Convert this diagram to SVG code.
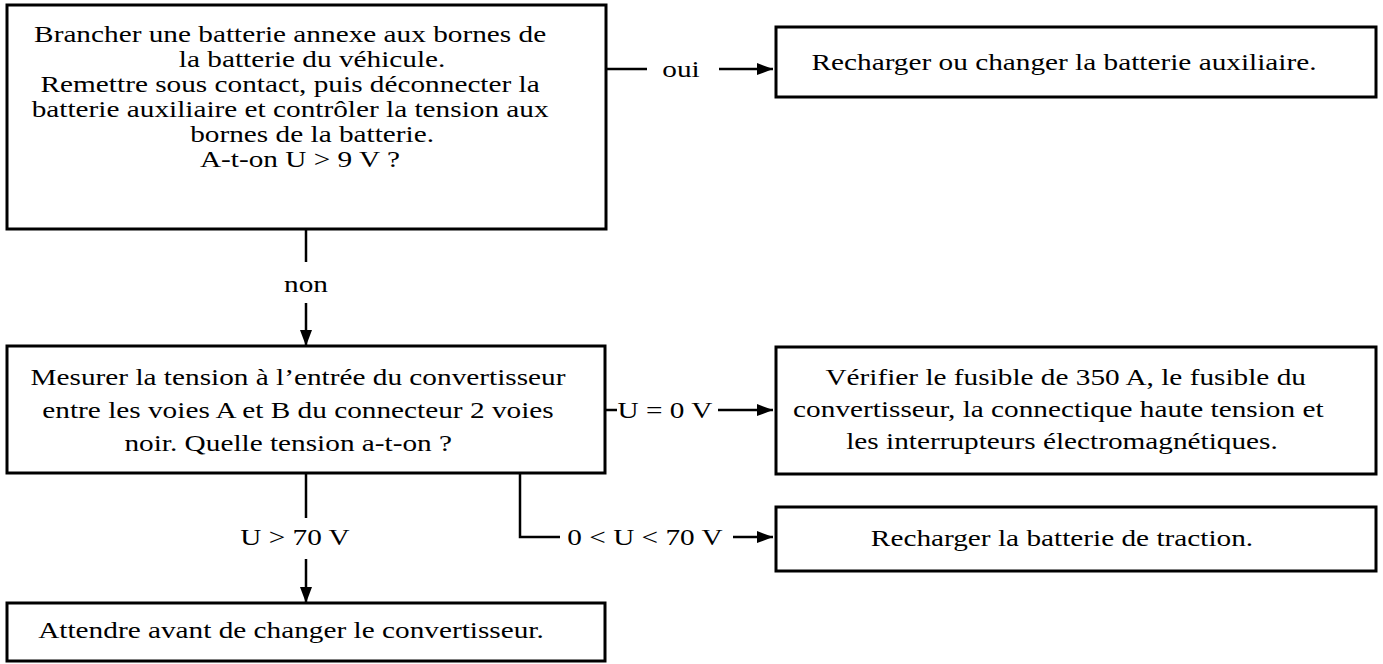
<svg xmlns="http://www.w3.org/2000/svg" width="1383" height="664" viewBox="0 0 1383 664">
<style>
.box{fill:#fff;stroke:#000;stroke-width:3}
.t{font-family:"Liberation Serif","Times New Roman",serif;font-size:24px;fill:#000;text-anchor:middle}
.c{stroke:#000;stroke-width:2.5;fill:none}
</style>
<defs>
<marker id="ah" markerWidth="16" markerHeight="12" refX="16" refY="6" orient="auto" markerUnits="userSpaceOnUse">
<path d="M0,0 L16,6 L0,12 Z" fill="#000"/>
</marker>
</defs>
<rect width="1383" height="664" fill="#fff"/>
<g id="n1">
<rect class="box" x="7" y="5" width="599" height="224"/>
<g transform="translate(306,0) scale(1.22,1)">
<text class="t" x="-13" y="42">Brancher une batterie annexe aux bornes de</text>
<text class="t" x="5" y="67">la batterie du véhicule.</text>
<text class="t" x="-13" y="92">Remettre sous contact, puis déconnecter la</text>
<text class="t" x="-13" y="117">batterie auxiliaire et contrôler la tension aux</text>
<text class="t" x="5" y="142">bornes de la batterie.</text>
<text class="t" x="-5" y="167">A-t-on U &gt; 9 V ?</text>
</g>
</g>
<g id="n2">
<rect class="box" x="776" y="27" width="600" height="70"/>
<g transform="translate(1064,0) scale(1.22,1)">
<text class="t" x="0" y="70">Recharger ou changer la batterie auxiliaire.</text>
</g>
</g>
<g id="n3">
<rect class="box" x="7" y="346" width="598" height="127"/>
<g transform="translate(298,0) scale(1.22,1)">
<text class="t" x="0" y="385">Mesurer la tension à l’entrée du convertisseur</text>
<text class="t" x="0" y="418">entre les voies A et B du connecteur 2 voies</text>
<text class="t" x="-8" y="451">noir.  Quelle tension a-t-on ?</text>
</g>
</g>
<g id="n4">
<rect class="box" x="776" y="347" width="600" height="127"/>
<g transform="translate(1062,0) scale(1.22,1)">
<text class="t" x="3" y="385">Vérifier le fusible de 350 A, le fusible du</text>
<text class="t" x="-3" y="417">convertisseur, la connectique haute tension et</text>
<text class="t" x="0" y="449">les interrupteurs électromagnétiques.</text>
</g>
</g>
<g id="n5">
<rect class="box" x="776" y="507" width="600" height="64"/>
<g transform="translate(1062,0) scale(1.22,1)">
<text class="t" x="0" y="546">Recharger la batterie de traction.</text>
</g>
</g>
<g id="n6">
<rect class="box" x="7" y="603" width="598" height="58"/>
<g transform="translate(291,0) scale(1.22,1)">
<text class="t" x="0" y="638">Attendre avant de changer le convertisseur.</text>
</g>
</g>
<g id="connectors">
<path class="c" d="M606,69 H647"/>
<path class="c" d="M719,69 H773" marker-end="url(#ah)"/>
<path class="c" d="M306,229 V262"/>
<path class="c" d="M306,303 V346" marker-end="url(#ah)"/>
<path class="c" d="M605,410 H617"/>
<path class="c" d="M718,410 H773" marker-end="url(#ah)"/>
<path class="c" d="M306,473 V518"/>
<path class="c" d="M306,559 V603" marker-end="url(#ah)"/>
<path class="c" d="M520,473 V537 H560"/>
<path class="c" d="M733,537 H773" marker-end="url(#ah)"/>
<g transform="translate(681,0) scale(1.22,1)"><text class="t" x="0" y="77">oui</text></g>
<g transform="translate(306,0) scale(1.22,1)"><text class="t" x="0" y="292">non</text></g>
<g transform="translate(665,0) scale(1.22,1)"><text class="t" x="0" y="418">U = 0 V</text></g>
<g transform="translate(295,0) scale(1.22,1)"><text class="t" x="0" y="545">U &gt; 70 V</text></g>
<g transform="translate(645,0) scale(1.22,1)"><text class="t" x="0" y="545">0 &lt; U &lt; 70 V</text></g>
</g>
</svg>
